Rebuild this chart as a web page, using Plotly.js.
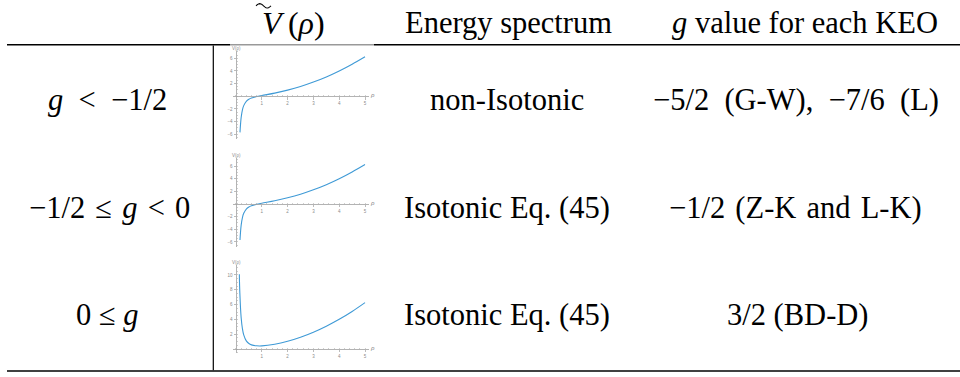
<!DOCTYPE html>
<html>
<head>
<meta charset="utf-8">
<script src="https://cdn.plot.ly/plotly-3.0.1.min.js"></script>
<style>html,body{margin:0;padding:0;background:#fff}#chart{width:960px;height:377px}</style>
</head>
<body>
<div id="chart"></div>
<script>
// ---- data ----
const rho12 = [0.155,0.2,0.25,0.3,0.4,0.5,0.6,0.8,1,1.5,2,2.5,3,3.5,4,4.5,5];
const vRow1 = [-5.7,-3.37,-2.14,-1.48,-0.80,-0.48,-0.29,-0.05,0.12,0.50,0.97,1.54,2.24,3.05,3.99,5.06,6.24];
const vRow2 = [-5.7,-3.37,-2.14,-1.48,-0.80,-0.48,-0.29,-0.05,0.12,0.50,0.97,1.54,2.24,3.05,3.99,5.06,6.24];
const rho3 = [0.13,0.15,0.2,0.25,0.3,0.4,0.5,0.6,0.8,1,1.5,2,2.5,3,3.5,4,4.5,5];
const vRow3 = [10.1,7.56,4.26,2.74,1.91,1.10,0.74,0.56,0.43,0.42,0.64,1.04,1.59,2.27,3.08,4.01,5.07,6.26];

const xTicks = [1,2,3,4,5];
const yTicksNeg = [-6,-4,-2,2,4,6];
const yTicksPos = [2,4,6,8,10];

const headers = ['Energy spectrum', '<i>g</i> value for each KEO'];
const rowConds = ['<i>g</i>\u2002&lt;\u2002−1/2', '−1/2\u2004≤\u2004<i>g</i>\u2004&lt;\u20040', '0 ≤ <i>g</i>'];
const rowSpectrum = ['non-Isotonic', 'Isotonic Eq. (45)', 'Isotonic Eq. (45)'];
const rowGValues = ['−5/2\u2002(G-W),\u2002−7/6\u2002(L)', '−1/2\u2004(Z-K\u2004and\u2004L-K)', '3/2 (BD-D)'];

// ---- layout helpers ----
const W = 960, H = 377;
const fx = p => p / W;
const fy = p => 1 - p / H;

const serif = '"Liberation Serif", "Times New Roman", Times, "DejaVu Serif", serif';
const curveColor = '#3f9ad6';
const axisColor = '#a0a0a0';
const tickFont = {family: '"Liberation Sans", Arial, sans-serif', size: 4.5, color: '#8a8a8a'};

const xDom = [fx(233.4), fx(368.9)];
const subplots = [
  {rho: rho12, v: vRow1, yr: [-6.75, 7.2], top: 50.7, bot: 139, zeroPx: 96.3, ticks: yTicksNeg},
  {rho: rho12, v: vRow2, yr: [-6.75, 7.2], top: 158.4, bot: 246.7, zeroPx: 204, ticks: yTicksNeg},
  {rho: rho3, v: vRow3, yr: [-0.5, 11.35], top: 265, bot: 352.7, zeroPx: 349, ticks: yTicksPos}
];

const data = [];
const layout = {
  width: W, height: H,
  margin: {l: 0, r: 0, t: 0, b: 0},
  paper_bgcolor: '#fff', plot_bgcolor: 'rgba(0,0,0,0)',
  showlegend: false,
  font: {family: serif, color: '#000'},
  annotations: [], shapes: []
};

subplots.forEach((s, i) => {
  const n = i === 0 ? '' : String(i + 1);
  data.push({
    x: s.rho, y: s.v, type: 'scatter', mode: 'lines',
    line: {color: curveColor, width: 1.1, shape: 'spline'},
    xaxis: 'x' + n, yaxis: 'y' + n, hoverinfo: 'skip'
  });
  layout['xaxis' + n] = {
    domain: xDom, range: [-0.1, 5.15], anchor: 'free', position: fy(s.zeroPx),
    showline: true, linecolor: axisColor, linewidth: 0.8,
    showgrid: false, zeroline: false,
    tickvals: xTicks, ticks: 'outside', ticklen: 2.5, tickcolor: axisColor, tickwidth: 0.7,
    minor: {dtick: 0.2, tick0: 0, ticks: 'inside', ticklen: 1.5, tickcolor: axisColor, tickwidth: 0.5, showgrid: false},
    tickfont: tickFont, fixedrange: true
  };
  layout['yaxis' + n] = {
    domain: [fy(s.bot), fy(s.top)], range: s.yr, anchor: 'free', position: fx(236),
    showline: true, linecolor: axisColor, linewidth: 0.8,
    showgrid: false, zeroline: false,
    tickvals: s.ticks, ticks: 'outside', ticklen: 2.5, tickcolor: axisColor, tickwidth: 0.7,
    minor: {dtick: 0.5, tick0: 0, ticks: 'inside', ticklen: 1.5, tickcolor: axisColor, tickwidth: 0.5, showgrid: false},
    tickfont: tickFont, fixedrange: true
  };
  layout.annotations.push({xref: 'paper', yref: 'paper', x: fx(236), y: fy(s.top - 2.5), text: 'V(ρ)',
    showarrow: false, font: {family: '"Liberation Sans", Arial, sans-serif', size: 4.5, color: '#8a8a8a'}, xanchor: 'center', yanchor: 'middle'});
  layout.annotations.push({xref: 'paper', yref: 'paper', x: fx(372.5), y: fy(s.zeroPx - 1), text: '<i>ρ</i>',
    showarrow: false, font: {family: '"Liberation Sans", Arial, sans-serif', size: 6, color: '#8a8a8a'}, xanchor: 'center', yanchor: 'middle'});
});

const big = {family: serif, size: 30.5, color: '#000'};
function txt(x, y, t, f) {
  layout.annotations.push({xref: 'paper', yref: 'paper', x: fx(x), y: fy(y), text: t,
    showarrow: false, font: f || big, xanchor: 'center', yanchor: 'middle'});
}
// header
txt(293.5, 23, '<i>V</i>\u2009(<i>ρ</i>)', {family: serif, size: 32, color: '#000'});
txt(508, 23, headers[0]);
txt(805, 23, headers[1]);
// wide tilde accent over V (drawn as a stroke)
(function () {
  const x0 = 256, x1 = 271, ym = 5.8, a = 2.2;
  const pts = [];
  for (let k = 0; k <= 12; k++) {
    const t = k / 12;
    pts.push([x0 + (x1 - x0) * t, ym - a * Math.sin(2 * Math.PI * t)]);
  }
  const path = pts.map((p, k) => (k ? 'L' : 'M') + fx(p[0]).toFixed(5) + ',' + fy(p[1]).toFixed(5)).join(' ');
  layout.shapes.push({type: 'path', xref: 'paper', yref: 'paper', path: path, line: {color: '#000', width: 1.1}});
})();
// rows
const rowY = [100, 208, 315];
const condX = [107, 109, 107];
const gX = [796, 795, 797];
rowY.forEach((y, i) => {
  txt(condX[i], y, rowConds[i]);
  txt(507, y, rowSpectrum[i]);
  txt(gX[i], y, rowGValues[i]);
});

// table rules
function hline(x0, x1, y, c, w) {
  layout.shapes.push({type: 'line', xref: 'paper', yref: 'paper', x0: fx(x0), x1: fx(x1), y0: fy(y), y1: fy(y),
    line: {color: c, width: w}});
}
hline(7, 230, 44.7, '#000', 1.5);
hline(230, 374, 44.7, '#999', 1.5);
hline(374, 960, 44.7, '#000', 1.5);
hline(7, 960, 371, '#000', 1.5);
layout.shapes.push({type: 'line', xref: 'paper', yref: 'paper', x0: fx(213.3), x1: fx(213.3), y0: fy(45.5), y1: fy(370.3),
  line: {color: '#000', width: 1.2}});

Plotly.newPlot('chart', data, layout, {staticPlot: true, displayModeBar: false});
</script>
</body>
</html>
